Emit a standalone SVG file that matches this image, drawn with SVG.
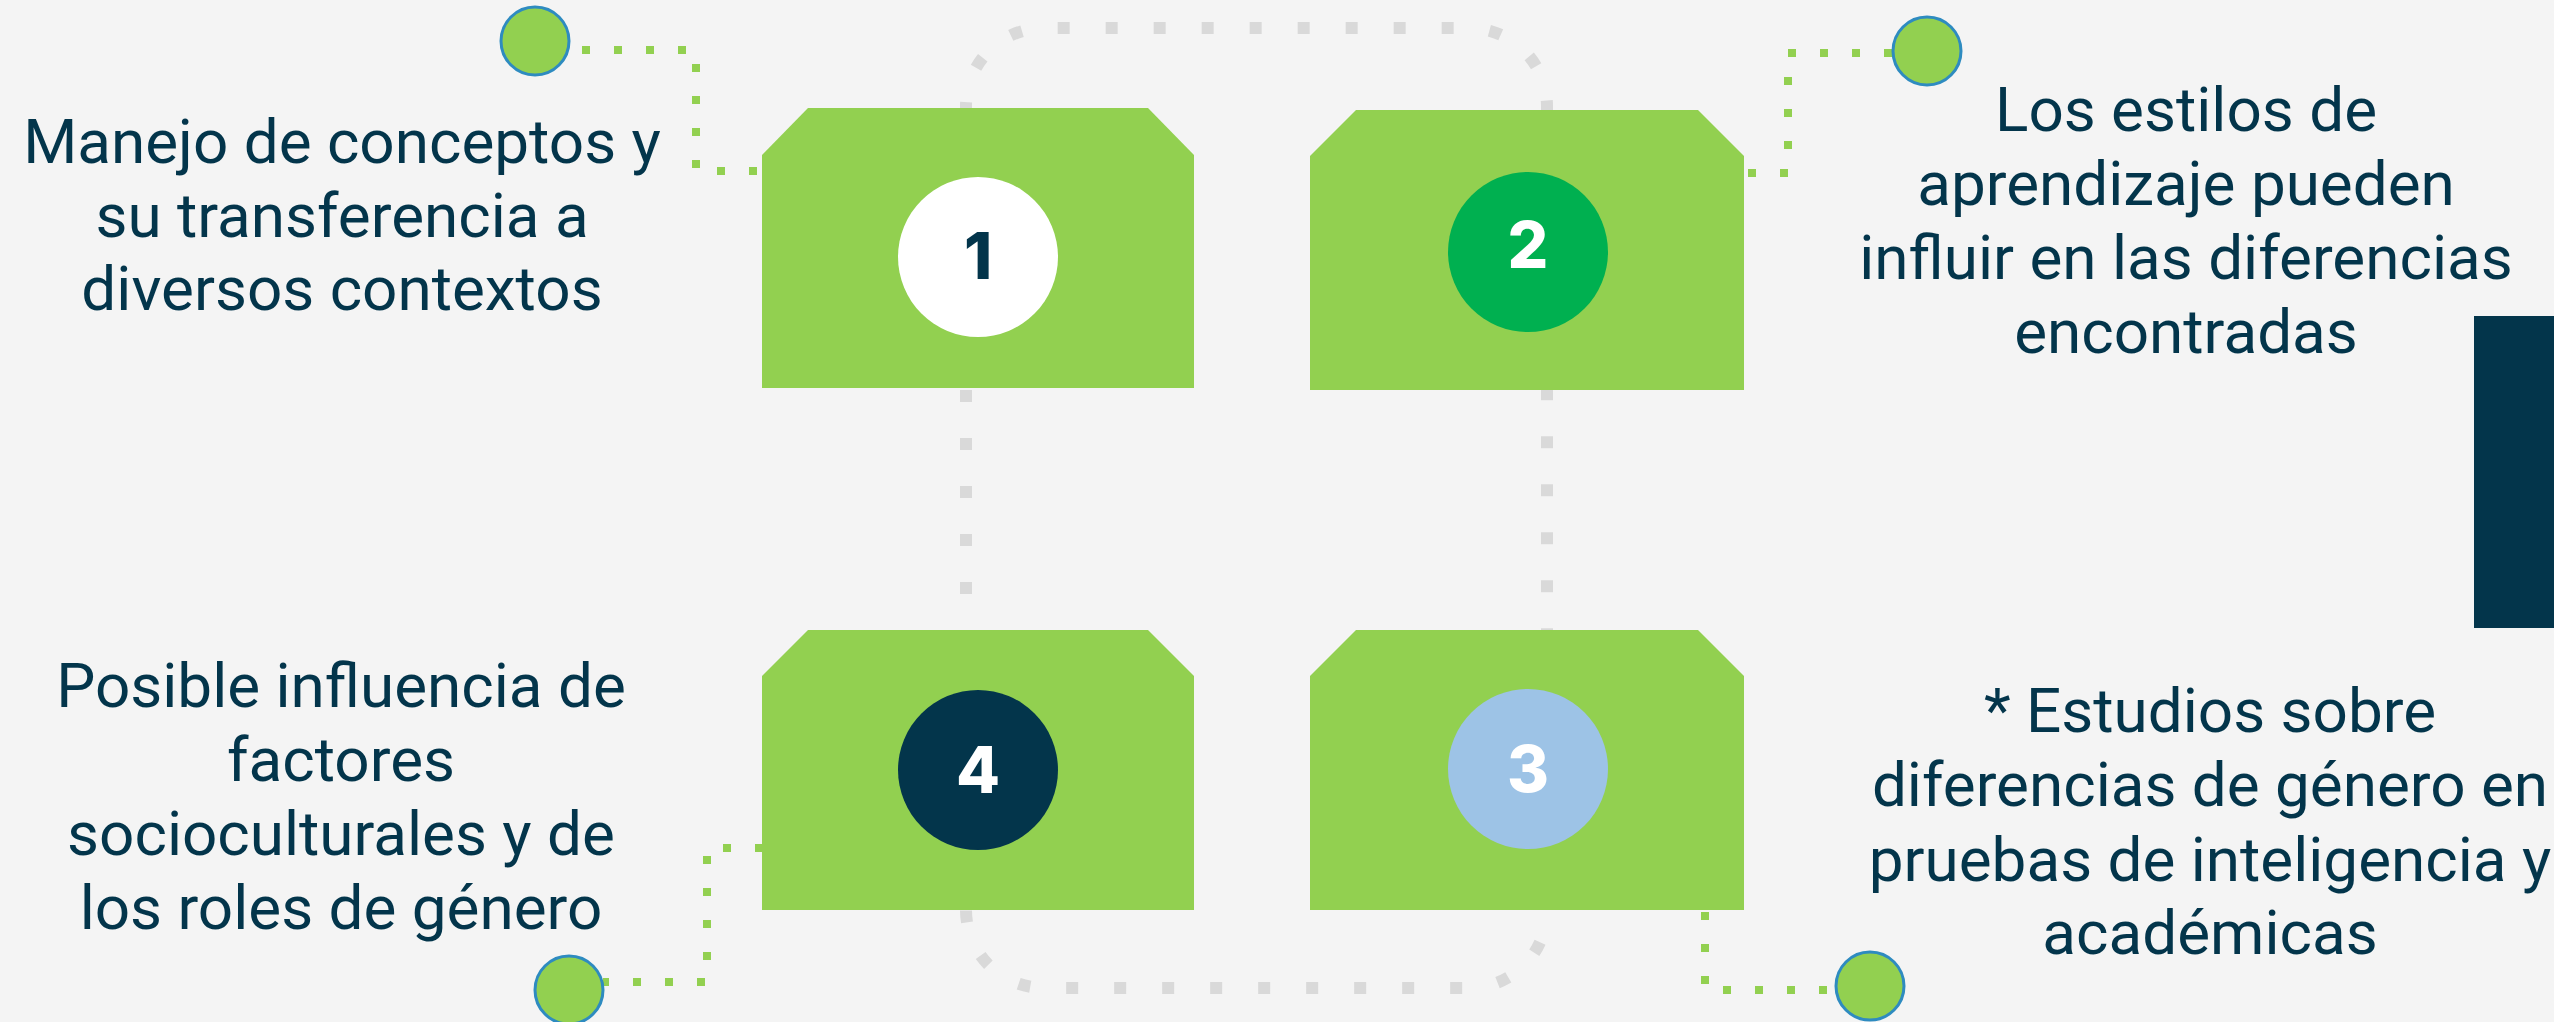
<svg xmlns="http://www.w3.org/2000/svg" width="2554" height="1022" viewBox="0 0 2554 1022">
<style>
.bg{fill:#f4f4f4}
.loop{fill:none;stroke:#d9d9d9;stroke-width:12;stroke-dasharray:12 36}
.gdot{fill:none;stroke:#92d050;stroke-width:8;stroke-dasharray:8 24}
.box{fill:#92d050}
.pin{fill:#92d050;stroke:#2e8bc0;stroke-width:3}
.lbl{font-family:Roboto,"Liberation Sans",sans-serif;font-size:62px;fill:#03354b;text-anchor:middle}
.num{font-family:Inter,Roboto,"Liberation Sans",sans-serif;font-weight:800;font-size:64px;text-anchor:middle}
</style>
<rect class="bg" x="0" y="0" width="2554" height="1022"/>
<rect id="side-bar" x="2474" y="316" width="80" height="312" fill="#03354b"/>
<g id="connectors">
  <path class="loop" stroke-dashoffset="12" d="M966,630 V106 A78,78 0 0 1 1044,28 H1469 A78,78 0 0 1 1547,106 V630"/>
  <path class="loop" stroke-dashoffset="7.5" d="M966,630 V910 A78,78 0 0 0 1044,988 H1469 A78,78 0 0 0 1547,910 V630"/>
  <path class="gdot" d="M582,50 H696 V171 H762"/>
  <path class="gdot" d="M1892,53 H1788 V173 H1744"/>
  <path class="gdot" d="M763,848 H707 V982 H603"/>
  <path class="gdot" d="M1705,912 V990 H1836"/>
</g>
<g id="node-1">
  <polygon class="box" points="762,155 808,108 1148,108 1194,155 1194,388 762,388"/>
  <circle cx="978" cy="257" r="80" fill="#ffffff"/>
  <text class="num" x="978" y="279" fill="#03354b">1</text>
  <circle class="pin" cx="535" cy="41" r="34"/>
  <text class="lbl" x="342"><tspan x="342" y="163">Manejo de conceptos y</tspan><tspan x="342" y="237">su transferencia a</tspan><tspan x="342" y="310">diversos contextos</tspan></text>
</g>
<g id="node-2">
  <polygon class="box" points="1310,156 1356,110 1698,110 1744,156 1744,390 1310,390"/>
  <circle cx="1528" cy="252" r="80" fill="#00b050"/>
  <text class="num" x="1528" y="268" fill="#ffffff">2</text>
  <circle class="pin" cx="1927" cy="51" r="34"/>
  <text class="lbl"><tspan x="2186" y="131">Los estilos de</tspan><tspan x="2186" y="205">aprendizaje pueden</tspan><tspan x="2186" y="279">influir en las diferencias</tspan><tspan x="2186" y="353">encontradas</tspan></text>
</g>
<g id="node-3">
  <polygon class="box" points="1310,676 1356,630 1698,630 1744,676 1744,910 1310,910"/>
  <circle cx="1528" cy="769" r="80" fill="#9dc3e6"/>
  <text class="num" x="1528" y="792" fill="#ffffff">3</text>
  <circle class="pin" cx="1870" cy="986" r="34"/>
  <text class="lbl"><tspan x="2210" y="732">* Estudios sobre</tspan><tspan x="2210" y="806">diferencias de género en</tspan><tspan x="2210" y="881">pruebas de inteligencia y</tspan><tspan x="2210" y="954">académicas</tspan></text>
</g>
<g id="node-4">
  <polygon class="box" points="762,676 808,630 1148,630 1194,676 1194,910 762,910"/>
  <circle cx="978" cy="770" r="80" fill="#03354b"/>
  <text class="num" x="978" y="793" fill="#ffffff">4</text>
  <circle class="pin" cx="569" cy="990" r="34"/>
  <text class="lbl"><tspan x="341" y="707">Posible influencia de</tspan><tspan x="341" y="781">factores</tspan><tspan x="341" y="855">socioculturales y de</tspan><tspan x="341" y="929">los roles de género</tspan></text>
</g>
</svg>
